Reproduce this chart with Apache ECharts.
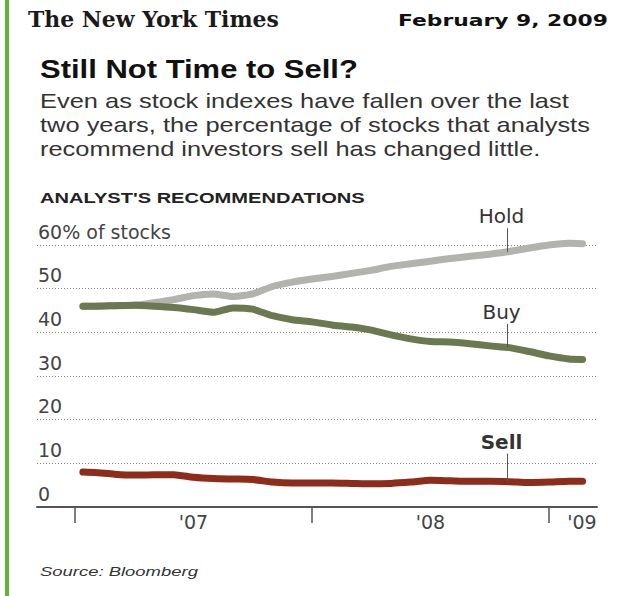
<!DOCTYPE html>
<html>
<head>
<meta charset="utf-8">
<script src="https://cdn.jsdelivr.net/npm/echarts@6/dist/echarts.min.js"></script>
<style>
  html, body { margin: 0; padding: 0; background: #ffffff; }
  #chart { width: 628px; height: 596px; }
</style>
</head>
<body>
<div id="chart"></div>
<script>
// ---- Data ----
// x positions in months since January 2007 (0 = Jan 2007, 12 = Jan 2008, 24 = Jan 2009)
const months = [0.4, 1, 2, 3, 4, 5, 6, 7, 8, 9, 10, 11, 12, 13, 14, 15, 16, 17, 18, 19, 20, 21, 22, 23, 24, 25, 25.7];
const holdValues = [46.0, 46.0, 46.1, 46.2, 46.8, 47.5, 48.4, 48.8, 48.2, 48.8, 50.5, 51.5, 52.2, 52.8, 53.5, 54.2, 55.1, 55.7, 56.3, 56.9, 57.4, 57.9, 58.5, 59.3, 60.0, 60.4, 60.3];
const buyValues  = [46.0, 46.0, 46.1, 46.2, 46.0, 45.7, 45.2, 44.6, 45.6, 45.3, 43.8, 42.9, 42.4, 41.7, 41.2, 40.5, 39.4, 38.5, 37.9, 37.8, 37.4, 36.9, 36.5, 35.6, 34.6, 33.9, 33.8];
const sellValues = [8.0, 7.9, 7.5, 7.3, 7.4, 7.4, 6.8, 6.5, 6.4, 6.3, 5.7, 5.5, 5.5, 5.5, 5.4, 5.3, 5.4, 5.7, 6.1, 6.0, 5.9, 5.9, 5.8, 5.6, 5.7, 5.9, 5.9];
const seriesNames = ['Hold', 'Buy', 'Sell'];
const yTicks = [0, 10, 20, 30, 40, 50, 60];
const yearTicks = [0, 12, 24];
const yearLabelPos = [6, 18, 25.67];
const yearLabels = ["'07", "'08", "'09"];
const annotationMonth = 21.9;

// ---- helpers ----
const measureCtx = document.createElement('canvas').getContext('2d');
function fitScale(text, font, targetWidth) {
  measureCtx.font = font;
  const w = measureCtx.measureText(text).width;
  return w > 0 ? targetWidth / w : 1;
}
function valueAt(arr, m) {
  for (let i = 0; i < months.length - 1; i++) {
    if (m >= months[i] && m <= months[i + 1]) {
      const t = (m - months[i]) / (months[i + 1] - months[i]);
      return arr[i] + t * (arr[i + 1] - arr[i]);
    }
  }
  return arr[arr.length - 1];
}
function headerText(text, x, y, font, width, color) {
  return {
    type: 'text', x: x, y: y, scaleX: fitScale(text, font, width), silent: true,
    style: { text: text, x: 0, y: 0, font: font, fill: color, align: 'left', verticalAlign: 'middle' }
  };
}

const chart = echarts.init(document.getElementById('chart'), null, { renderer: 'svg' });

const subFont = '20px "Liberation Sans"';
const subLines = [
  'Even as stock indexes have fallen over the last',
  'two years, the percentage of stocks that analysts',
  'recommend investors sell has changed little.'
];
const subScale = fitScale(subLines[1], subFont, 550);

const headerGraphics = [
  { type: 'rect', shape: { x: 5, y: 0, width: 4, height: 596 }, style: { fill: '#62b23c' }, silent: true },
  headerText('The New York Times', 28, 19, 'bold 22px "DejaVu Serif"', 251, '#1a1a1a'),
  headerText('February 9, 2009', 398, 21, 'bold 15px "DejaVu Sans"', 210, '#111111'),
  headerText('Still Not Time to Sell?', 40, 69, 'bold 26px "Liberation Sans"', 318, '#111111'),
  headerText("ANALYST'S RECOMMENDATIONS", 40, 198, 'bold 14px "Liberation Sans"', 325, '#222222'),
  headerText('Source: Bloomberg', 40, 572, 'italic 13px "Liberation Sans"', 158, '#333333')
];
subLines.forEach(function (line, i) {
  headerGraphics.push({
    type: 'text', x: 40, y: 101 + i * 24, scaleX: subScale, silent: true,
    style: { text: line, x: 0, y: 0, font: subFont, fill: '#333333', align: 'left', verticalAlign: 'middle' }
  });
});

const colors = ['#b2b2ae', '#6c7950', '#8e2c1c'];
const valueArrays = [holdValues, buyValues, sellValues];

function lineSeries(idx) {
  return {
    name: seriesNames[idx],
    type: 'line',
    data: months.map(function (m, i) { return [m, valueArrays[idx][i]]; }),
    showSymbol: false,
    symbol: 'none',
    smooth: 0.2,
    clip: false,
    z: 3 + idx,
    lineStyle: { color: colors[idx], width: 7, cap: 'round', join: 'round' },
    animation: false
  };
}

chart.setOption({
  animation: false,
  backgroundColor: '#ffffff',
  grid: { left: 37, right: 31, top: 245, bottom: 89, containLabel: false },
  xAxis: {
    type: 'value',
    min: -1.924,
    max: 26.43,
    axisLine: { show: true, lineStyle: { color: '#555555', width: 2 } },
    axisTick: { show: true, customValues: yearTicks, length: 16, lineStyle: { color: '#555555', width: 1.5 } },
    axisLabel: {
      show: true,
      customValues: yearLabelPos,
      margin: 5,
      fontFamily: 'DejaVu Sans', fontSize: 19, color: '#444444',
      formatter: function (v) {
        const i = yearLabelPos.findIndex(function (p) { return Math.abs(p - v) < 0.01; });
        return i >= 0 ? yearLabels[i] : '';
      }
    },
    splitLine: { show: false }
  },
  yAxis: {
    type: 'value',
    min: yTicks[0],
    max: yTicks[yTicks.length - 1],
    interval: 10,
    axisLine: { show: false },
    axisTick: { show: false },
    axisLabel: {
      inside: true, margin: 1,
      verticalAlign: 'bottom', padding: [0, 0, 4, 0],
      fontFamily: 'DejaVu Sans', fontSize: 19, color: '#444444',
      formatter: function (v) { return v === 60 ? '60% of stocks' : String(v); }
    },
    splitLine: { show: true, lineStyle: { color: '#858585', width: 1, type: [1, 2] } }
  },
  series: [lineSeries(0), lineSeries(1), lineSeries(2)],
  graphic: headerGraphics
});

// annotations: leader lines and series names, positioned through the chart's scales
const leaderLen = [5.4, 5.4, 6.4];
const annGraphics = [];
seriesNames.forEach(function (name, idx) {
  const v = valueAt(valueArrays[idx], annotationMonth);
  const p0 = chart.convertToPixel({ gridIndex: 0 }, [annotationMonth, v]);
  const p1 = chart.convertToPixel({ gridIndex: 0 }, [annotationMonth, v + leaderLen[idx]]);
  annGraphics.push({
    type: 'line', silent: true, z: 10,
    shape: { x1: p0[0], y1: p0[1], x2: p1[0], y2: p1[1] },
    style: { stroke: '#555555', lineWidth: 1 }
  });
  annGraphics.push({
    type: 'text', silent: true, z: 10,
    style: {
      text: name, x: p1[0] - 6, y: p1[1] - 2,
      font: (idx === 2 ? 'bold ' : '') + '20px "DejaVu Sans"',
      fill: '#333333', align: 'center', verticalAlign: 'bottom'
    }
  });
});
chart.setOption({ graphic: headerGraphics.concat(annGraphics) });
</script>
</body>
</html>
